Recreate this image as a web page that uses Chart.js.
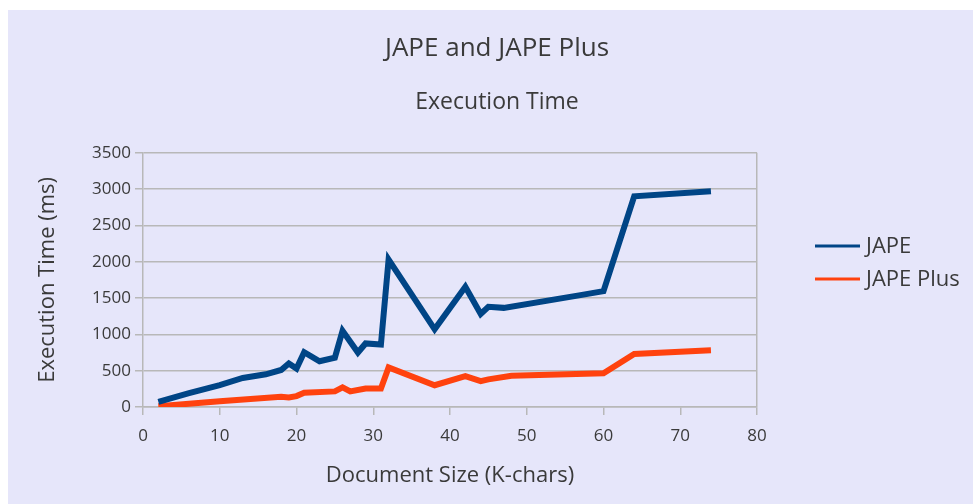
<!DOCTYPE html>
<html>
<head>
<meta charset="utf-8">
<script src="https://cdn.jsdelivr.net/npm/chart.js@4/dist/chart.umd.min.js"></script>
<style>
  html, body { margin: 0; padding: 0; background: #ffffff; overflow: hidden; }
  #wrap { position: absolute; left: 8px; top: 10px; width: 978px; height: 494px; background: #e6e6fa; }
</style>
</head>
<body>
<div id="wrap"><canvas id="chart"></canvas></div>
<script>
// JAPE vs JAPE Plus execution time.
const japeSize = [2, 6, 10, 13, 16, 18, 19, 20, 21, 23, 25, 26, 28, 29, 31, 32, 38, 42, 44, 45, 47, 57, 60, 64, 74];
const japeTime = [70, 190, 300, 400, 450, 510, 600, 530, 755, 630, 680, 1050, 750, 875, 860, 2030, 1070, 1655, 1280, 1380, 1365, 1540, 1595, 2900, 2970];

const plusSize = [2, 10, 18, 19, 20, 21, 25, 26, 27, 29, 31, 32, 38, 42, 44, 45, 48, 60, 64, 74];
const plusTime = [10, 80, 140, 130, 150, 195, 215, 270, 215, 253, 253, 545, 300, 425, 355, 380, 430, 465, 730, 780];

const seriesNames = ["JAPE", "JAPE Plus"];
const seriesColors = ["#004586", "#ff420e"];

const xTicks = [0, 10, 20, 30, 40, 50, 60, 70, 80];
const yTicks = [0, 500, 1000, 1500, 2000, 2500, 3000, 3500];

const TEXT = "#3a3a3a";
const GRID = "#b8b8b8";
const FONT = "'Open Sans', 'DejaVu Sans', sans-serif";

const toPoints = (xs, ys) => xs.map((x, i) => ({ x, y: ys[i] }));

// legend on the right, drawn beside the plot like the office chart does
const sideLegend = {
  id: "sideLegend",
  afterDraw(chart) {
    const { ctx, chartArea } = chart;
    const x0 = chartArea.right + 58;
    const yMid = (chartArea.top + chartArea.bottom) / 2;
    ctx.save();
    ctx.font = "22px " + FONT;
    ctx.textBaseline = "middle";
    chart.data.datasets.forEach((ds, i) => {
      const y = yMid - 34 + i * 33;
      ctx.strokeStyle = ds.borderColor;
      ctx.lineWidth = 3;
      ctx.beginPath();
      ctx.moveTo(x0, y);
      ctx.lineTo(x0 + 45, y);
      ctx.stroke();
      ctx.fillStyle = TEXT;
      ctx.fillText(ds.label, x0 + 51, y + 1);
    });
    ctx.restore();
  },
};

new Chart(document.getElementById("chart"), {
  type: "line",
  data: {
    datasets: [
      { label: seriesNames[0], data: toPoints(japeSize, japeTime) },
      { label: seriesNames[1], data: toPoints(plusSize, plusTime) },
    ].map((ds, i) => ({
      ...ds,
      borderColor: seriesColors[i],
      backgroundColor: seriesColors[i],
      borderWidth: 6,
      pointRadius: 0,
      tension: 0,
      borderJoinStyle: "miter",
    })),
  },
  options: {
    responsive: true,
    maintainAspectRatio: false,
    animation: false,
    layout: { padding: 0 },
    plugins: {
      legend: { display: false },
      tooltip: { enabled: false },
      title: {
        display: true,
        text: "JAPE and JAPE Plus",
        color: TEXT,
        font: { family: FONT, size: 26, weight: "normal" },
        padding: { top: 23, bottom: 0 },
      },
      subtitle: {
        display: true,
        text: "Execution Time",
        color: TEXT,
        font: { family: FONT, size: 23, weight: "normal" },
        padding: { top: 24, bottom: 37 },
      },
    },
    scales: {
      x: {
        type: "linear",
        min: 0,
        max: 80,
        afterBuildTicks: (s) => { s.ticks = xTicks.map((v) => ({ value: v })); },
        afterFit: (s) => { s.height = 97; },
        grid: {
          color: (c) => (c.tick && c.tick.value === 80 ? GRID : "rgba(0,0,0,0)"),
          tickColor: GRID,
          tickLength: 8,
          lineWidth: 1.5,
        },
        border: { color: GRID, width: 1.5 },
        ticks: { color: TEXT, font: { family: FONT, size: 17 }, padding: 11, maxRotation: 0 },
        title: {
          display: true,
          text: "Document Size (K-chars)",
          color: TEXT,
          font: { family: FONT, size: 22 },
          padding: { top: 0, bottom: 15 },
        },
      },
      y: {
        min: 0,
        max: 3500,
        afterBuildTicks: (s) => { s.ticks = yTicks.map((v) => ({ value: v })); },
        afterFit: (s) => { s.width = 135; },
        grid: { color: GRID, tickColor: GRID, tickLength: 8, lineWidth: 1.5 },
        border: { color: GRID, width: 1.5 },
        ticks: { color: TEXT, font: { family: FONT, size: 17 }, padding: 4, callback: (v) => String(v) },
        title: {
          display: true,
          text: "Execution Time (ms)",
          color: TEXT,
          font: { family: FONT, size: 22 },
          padding: { top: 27, bottom: 0 },
        },
      },
      // empty right-hand scale that only reserves room for the legend,
      // so the titles stay centred on the whole canvas
      legendSpace: {
        type: "linear",
        position: "right",
        min: 0,
        max: 1,
        afterFit: (s) => { s.width = 229; },
        grid: { display: false, drawTicks: false },
        border: { display: false },
        ticks: { display: false },
      },
    },
  },
  plugins: [sideLegend],
});
</script>
</body>
</html>
